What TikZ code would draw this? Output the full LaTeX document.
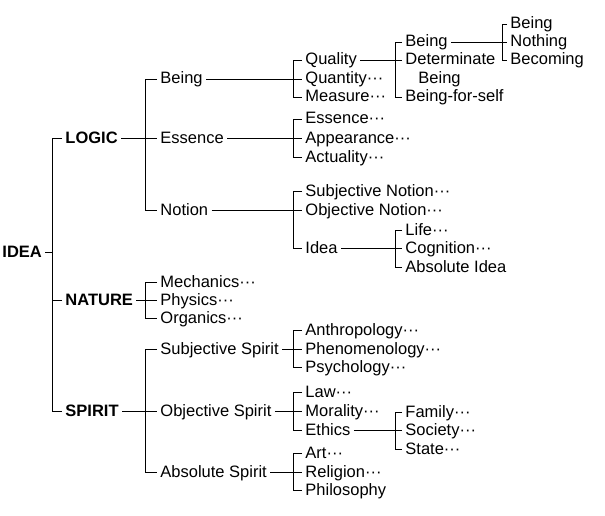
\documentclass[tikz,border=0pt]{standalone}
\usepackage{fontspec}
\setmainfont{Liberation Sans}
\begin{document}
\begin{tikzpicture}[x=1pt,y=-1pt,
  lbl/.style={anchor=west, inner xsep=3pt, inner ysep=0pt, text height=10pt, text depth=0pt, font=\fontsize{16.5}{19}\selectfont},
  head/.style={lbl, font=\fontsize{16.5}{19}\selectfont\bfseries},
  every path/.style={line width=0.9pt}]
\useasboundingbox (0,0) rectangle (605,516);
% level 0 and 1
\node[head] (idea) at (-1,252) {IDEA};
\node[head] (logic) at (62,138) {LOGIC};
\node[head] (nature) at (62,300) {NATURE};
\node[head] (spirit) at (62,411) {SPIRIT};
% level 2
\node[lbl] (being2) at (157,79) {Being};
\node[lbl] (essence2) at (157,138) {Essence};
\node[lbl] (notion) at (157,210) {Notion};
\node[lbl] (mechanics) at (157,282) {Mechanics···};
\node[lbl] (physics) at (157,300) {Physics···};
\node[lbl] (organics) at (157,318) {Organics···};
\node[lbl] (subjspirit) at (157,349) {Subjective Spirit};
\node[lbl] (objspirit) at (157,411) {Objective Spirit};
\node[lbl] (absspirit) at (157,472) {Absolute Spirit};
% level 3
\node[lbl] (quality) at (302,60) {Quality};
\node[lbl] (quantity) at (302,79) {Quantity···};
\node[lbl] (measure) at (302,97) {Measure···};
\node[lbl] (essence3) at (302,119) {Essence···};
\node[lbl] (appearance) at (302,138) {Appearance···};
\node[lbl] (actuality) at (302,157) {Actuality···};
\node[lbl] (subjnotion) at (302,191) {Subjective Notion···};
\node[lbl] (objnotion) at (302,210) {Objective Notion···};
\node[lbl] (idea3) at (302,248) {Idea};
\node[lbl] (anthro) at (302,330) {Anthropology···};
\node[lbl] (phenom) at (302,349) {Phenomenology···};
\node[lbl] (psych) at (302,367) {Psychology···};
\node[lbl] (law) at (302,392) {Law···};
\node[lbl] (morality) at (302,411) {Morality···};
\node[lbl] (ethics) at (302,430) {Ethics};
\node[lbl] (art) at (302,453) {Art···};
\node[lbl] (religion) at (302,472) {Religion···};
\node[lbl] (philosophy) at (302,490) {Philosophy};
% level 4
\node[lbl] (being4) at (402,42) {Being};
\node[lbl] (determinate) at (402,60) {Determinate};
\node[lbl] (detbeing) at (415,79) {Being};
\node[lbl] (beingforself) at (402,97) {Being-for-self};
\node[lbl] (life) at (402,230) {Life···};
\node[lbl] (cognition) at (402,248) {Cognition···};
\node[lbl] (absidea) at (402,267) {Absolute Idea};
\node[lbl] (family) at (402,412) {Family···};
\node[lbl] (society) at (402,430) {Society···};
\node[lbl] (state) at (402,449) {State···};
% level 5
\node[lbl] (being5) at (507,24) {Being};
\node[lbl] (nothing) at (507,42) {Nothing};
\node[lbl] (becoming) at (507,60) {Becoming};
% connectors level 0-1
\coordinate (v1) at (52,252);
\draw (idea.east) -- (v1);
\draw (logic.west) -- ++(-10,0) |- (spirit.west);
\draw (nature.west) -- ++(-10,0);
% level 1-2
\draw (logic.east) -- (essence2.west);
\draw (being2.west) -- ++(-12,0) |- (notion.west);
\draw (nature.east) -- (physics.west);
\draw (mechanics.west) -- ++(-12,0) |- (organics.west);
\draw (spirit.east) -- (objspirit.west);
\draw (subjspirit.west) -- ++(-12,0) |- (absspirit.west);
% level 2-3
\draw (being2.east) -- (quantity.west);
\draw (quality.west) -- ++(-9,0) |- (measure.west);
\draw (essence2.east) -- (appearance.west);
\draw (essence3.west) -- ++(-9,0) |- (actuality.west);
\draw (notion.east) -- (objnotion.west);
\draw (subjnotion.west) -- ++(-9,0) |- (idea3.west);
\draw (subjspirit.east) -- (phenom.west);
\draw (anthro.west) -- ++(-9,0) |- (psych.west);
\draw (objspirit.east) -- (morality.west);
\draw (law.west) -- ++(-9,0) |- (ethics.west);
\draw (absspirit.east) -- (religion.west);
\draw (art.west) -- ++(-9,0) |- (philosophy.west);
% level 3-4
\draw (quality.east) -- (determinate.west);
\draw (being4.west) -- ++(-7,0) |- (beingforself.west);
\draw (idea3.east) -- (cognition.west);
\draw (life.west) -- ++(-7,0) |- (absidea.west);
\draw (ethics.east) -- (society.west);
\draw (family.west) -- ++(-7,0) |- (state.west);
% level 4-5
\draw (being4.east) -- (nothing.west);
\draw (being5.west) -- ++(-5,0) |- (becoming.west);
\end{tikzpicture}
\end{document}
